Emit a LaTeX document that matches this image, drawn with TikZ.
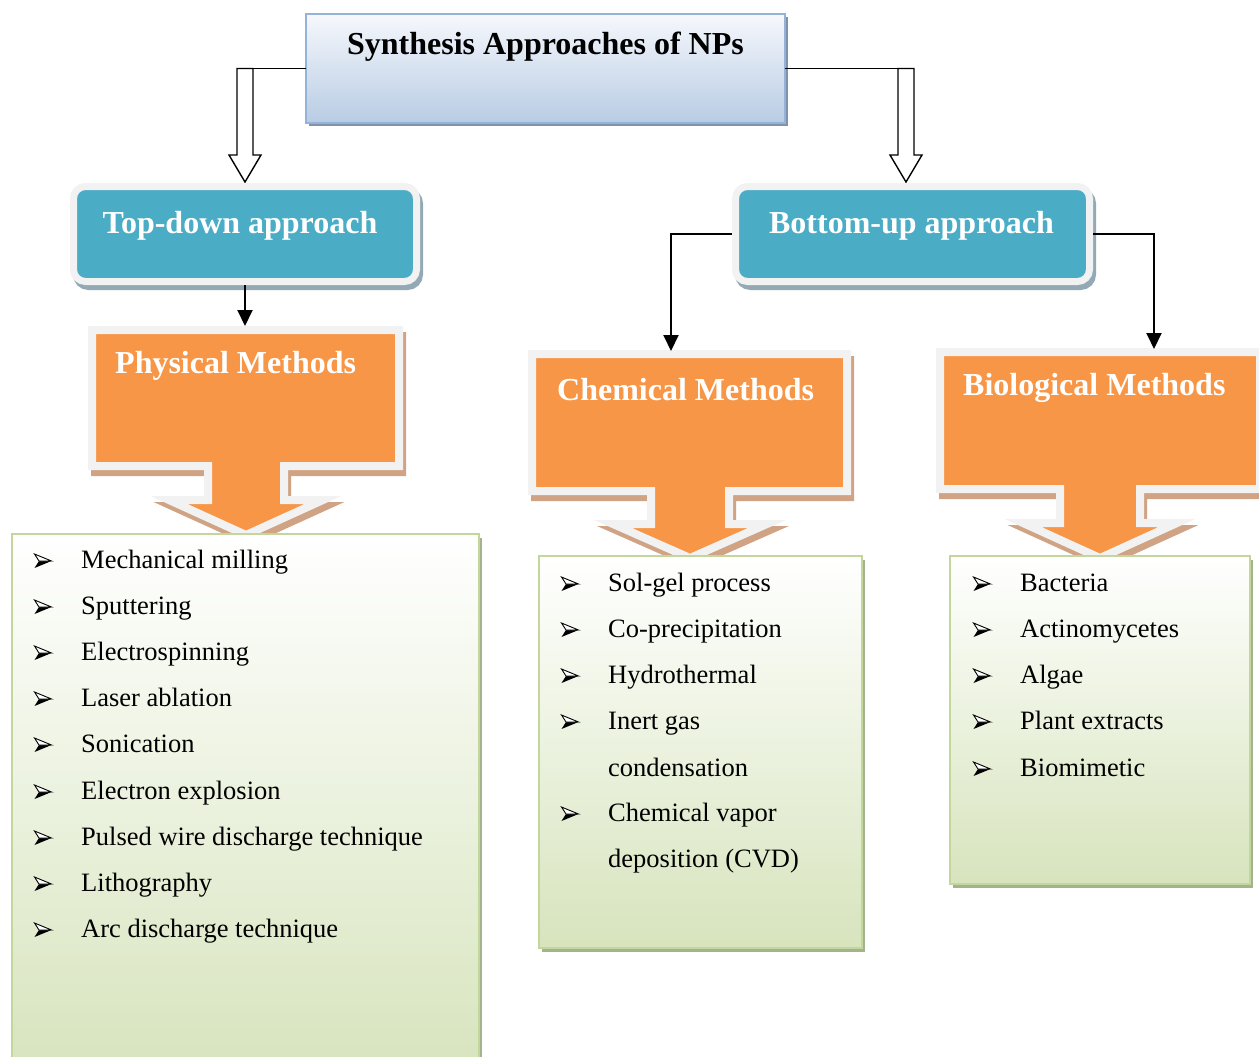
\documentclass[tikz,border=0pt]{standalone}
\usepackage{fontspec}
\setmainfont{Liberation Serif}
\usetikzlibrary{arrows.meta}
\definecolor{teal1}{HTML}{4BACC6}
\definecolor{frameG}{HTML}{F2F2F2}
\definecolor{tealsh}{HTML}{93A9B5}
\definecolor{orng}{HTML}{F79646}
\definecolor{orngsh}{HTML}{CFA384}
\definecolor{titletop}{HTML}{F6F8FC}
\definecolor{titlebot}{HTML}{B8CCE4}
\definecolor{titlebd}{HTML}{95B3D7}
\definecolor{titlesh}{HTML}{8193AC}
\definecolor{lgreen}{HTML}{D7E4BD}
\definecolor{lgreenbd}{HTML}{C3D69B}
\definecolor{lgreensh}{HTML}{A3B38E}
\tikzset{
  hdr/.style={font=\fontsize{32}{38}\selectfont\bfseries, inner sep=0pt},
  hdrw/.style={hdr, text=white},
  itm/.style={font=\fontsize{26.5}{31}\selectfont, inner sep=0pt, anchor=base west},
  titlebox/.style={rectangle, minimum width=479pt, minimum height=109pt, inner sep=0pt, outer sep=0pt,
    top color=titletop, bottom color=titlebot, draw=titlebd, line width=2pt,
    preaction={fill=titlesh, transform canvas={xshift=3pt,yshift=-3pt}}},
  tealbox/.style={rectangle, rounded corners=12pt, fill=teal1, draw=frameG, line width=7pt,
    inner sep=0pt, outer sep=3.5pt,
    preaction={fill=tealsh, draw=tealsh, line width=7pt, transform canvas={xshift=3pt,yshift=-5pt}}},
  callout/.style={fill=orng, draw=frameG, line width=8pt, line join=miter, miter limit=10,
    preaction={fill=orngsh, draw=orngsh, line width=8pt, line join=miter, miter limit=10,
      transform canvas={xshift=3pt,yshift=-6pt}}},
  listbox/.style={rectangle, inner sep=0pt, outer sep=0pt, draw=lgreenbd, line width=2.5pt,
    top color=white, bottom color=lgreen,
    preaction={fill=lgreensh, transform canvas={xshift=3pt,yshift=-4pt}}},
  hollow/.style={draw=black, fill=white, line width=1.4pt, line join=miter},
  plainline/.style={draw=black, line width=1.4pt},
  conn/.style={draw=black, line width=2pt, -{Triangle[width=15pt,length=16pt]}},
  bul/.pic={
    \fill[black] (-8.5,7) -- (8.5,0) -- (-4,0) -- cycle;
    \draw[line width=0.9pt, fill=white, line join=miter] (-8.5,-7) -- (8.5,0) -- (-4,0) -- cycle;
  }
}
\begin{document}
\begin{tikzpicture}[x=1pt,y=-1pt]
\useasboundingbox (0,0) rectangle (1259,1057);
\clip (0,0) rectangle (1259,1057);
\fill[white] (0,0) rectangle (1259,1057);

% title
\node[titlebox] (title) at (545.5,68.5) {};
\node[hdr, anchor=base] (titletxt) at (545.5,55) {Synthesis Approaches of NPs};

% hollow arrows
\coordinate (hlA) at (237,68.5);
\coordinate (hrA) at (914,68.5);
\draw[plainline] (title.west) -- (hlA);
\draw[plainline] (title.east) -- (hrA);
\draw[hollow] (237,68.5) -- (237,155) -- (229,155) -- (245,182) -- (261,155) -- (253,155) -- (253,68.5) -- cycle;
\draw[hollow] (898,68.5) -- (898,155) -- (890,155) -- (906,182) -- (922,155) -- (914,155) -- (914,68.5) -- cycle;

% approach boxes
\node[tealbox, minimum width=343pt, minimum height=95pt] (td) at (245,234) {};
\node[hdrw, anchor=base] (tdtxt) at (240,233) {Top-down approach};
\node[tealbox, minimum width=354pt, minimum height=95pt] (bu) at (912.5,234) {};
\node[hdrw, anchor=base] (butxt) at (911.5,233) {Bottom-up approach};

% callouts
\path[callout] (92,330) -- (399,330) -- (399,466) -- (284,466) -- (284,500) -- (323,500) -- (246,535)
  -- (169,500) -- (208,500) -- (208,466) -- (92,466) -- cycle;
\path[callout] (532,354) -- (847,354) -- (847,491) -- (729,491) -- (729,524) -- (767,524) -- (690,558)
  -- (613,524) -- (651,524) -- (651,491) -- (532,491) -- cycle;
\path[callout] (940,352) -- (1260,352) -- (1260,489) -- (1140,489) -- (1140,523) -- (1177,523) -- (1100,558)
  -- (1023,523) -- (1060,523) -- (1060,489) -- (940,489) -- cycle;
\node[hdrw, anchor=base west] (phystxt) at (115,373) {Physical Methods};
\node[hdrw, anchor=base west] (chemtxt) at (557,400) {Chemical Methods};
\node[hdrw, anchor=base west] (biotxt) at (963,395) {Biological Methods};

\coordinate (phystop) at (245,326);
\coordinate (chemtop) at (671,351);
\coordinate (biotop) at (1154,349);

% list boxes
\node[listbox, minimum width=467pt, minimum height=540pt] (plist) at (245.5,804) {};
\node[listbox, minimum width=323pt, minimum height=392pt] (clist) at (700.5,752) {};
\node[listbox, minimum width=300pt, minimum height=328pt] (blist) at (1100,720) {};

% physical items
\foreach \y in {568,614,660,706,752,799,845,891,937} { \pic at (43,\y-7) {bul}; }
\node[itm] (p1) at (81,568) {Mechanical milling};
\node[itm] (p2) at (81,614) {Sputtering};
\node[itm] (p3) at (81,660) {Electrospinning};
\node[itm] (p4) at (81,706) {Laser ablation};
\node[itm] (p5) at (81,752) {Sonication};
\node[itm] (p6) at (81,799) {Electron explosion};
\node[itm] (p7) at (81,845) {Pulsed wire discharge technique};
\node[itm] (p8) at (81,891) {Lithography};
\node[itm] (p9) at (81,937) {Arc discharge technique};

% chemical items
\foreach \y in {591,637,683,729,821} { \pic at (570,\y-7) {bul}; }
\node[itm] (c1) at (608,591) {Sol-gel process};
\node[itm] (c2) at (608,637) {Co-precipitation};
\node[itm] (c3) at (608,683) {Hydrothermal};
\node[itm] (c4) at (608,729) {Inert gas};
\node[itm] (c5) at (608,776) {condensation};
\node[itm] (c6) at (608,821) {Chemical vapor};
\node[itm] (c7) at (608,867) {deposition (CVD)};

% biological items
\foreach \y in {591,637,683,729,776} { \pic at (982,\y-7) {bul}; }
\node[itm] (b1) at (1020,591) {Bacteria};
\node[itm] (b2) at (1020,637) {Actinomycetes};
\node[itm] (b3) at (1020,683) {Algae};
\node[itm] (b4) at (1020,729) {Plant extracts};
\node[itm] (b5) at (1020,776) {Biomimetic};

% connectors
\draw[conn] (td.south) -- (phystop);
\draw[conn] (bu.west) -| (chemtop);
\draw[conn] (bu.east) -| (biotop);
\end{tikzpicture}
\end{document}
